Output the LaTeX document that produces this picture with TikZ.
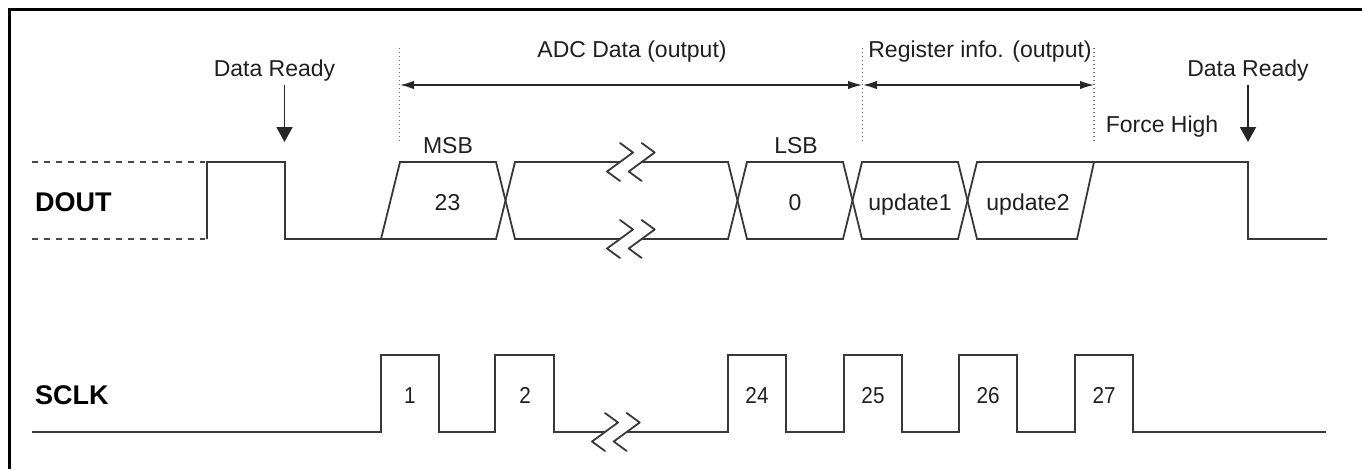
\documentclass[tikz,border=0pt]{standalone}
\usepackage{fontspec}
\setmainfont{Liberation Sans}
\newfontfamily\numfont[FakeStretch=0.9]{Liberation Sans}
\usetikzlibrary{arrows.meta}
\newcommand\brkmark[2]{\draw[brk] ({#1},{#2-19}) -- ++(13,9.5) -- ++(-26,19) -- ++(13,9.5);}
\tikzset{
 sig/.style={line width=1.8pt, black!78, line join=miter},
 dashsig/.style={line width=1.3pt, black!72, dash pattern=on 6pt off 6pt},
 guide/.style={line width=1.2pt, black!55, dash pattern=on 1.4pt off 2.6pt},
 dim/.style={line width=1.5pt, black!85, {Latex[length=14pt,width=8.5pt]}-{Latex[length=14pt,width=8.5pt]}},
 readyarrow/.style={line width=1.8pt, black!85, -{Triangle[length=15pt,width=16pt]}},
 lbl/.style={font=\fontsize{23}{27}\selectfont, text=black!88, inner sep=0pt, anchor=base},
 signame/.style={font=\fontsize{27}{30}\selectfont\bfseries, text=black, inner sep=0pt, anchor=base west},
 num/.style={font=\numfont\fontsize{23}{27}\selectfont, text=black!88, inner sep=0pt, anchor=base},
 brk/.style={line width=1.8pt, black!78, line join=round, line cap=round},
 frame/.style={line width=2.6pt, black}
}
\begin{document}
\begin{tikzpicture}[x=1pt,y=-1pt]
\useasboundingbox (0,0) rectangle (1362,469);
% frame (clipped on right and bottom)
\draw[frame] (9.5,469) -- (9.5,9.5) -- (1362,9.5);

% ---------- labels ----------
\node[signame] (dout) at (35,211.5) {DOUT};
\node[signame] (sclk) at (35,404) {SCLK};

\node[lbl] (dr1) at (274.5,76) {Data Ready};
\node[lbl] (dr2) at (1248,76) {Data Ready};
\node[lbl] (adc) at (632,57) {ADC Data (output)};
\node[lbl] (reg) at (980,57) {Register info. (output)};
\node[lbl] (fh) at (1162,132) {Force High};
\node[lbl] (msb) at (448,153) {MSB};
\node[lbl] (lsb) at (796,153) {LSB};
\node[lbl] (b23) at (447.5,210) {23};
\node[lbl] (b0) at (795,210) {0};
\node[lbl] (u1) at (910,210) {update1};
\node[lbl] (u2) at (1028,210) {update2};

% ---------- guides and dimension arrows ----------
\coordinate (g1t) at (399.5,48);  \coordinate (g1b) at (399.5,143);
\coordinate (g2t) at (862.5,48);  \coordinate (g2b) at (862.5,143);
\coordinate (g3t) at (1094,48);   \coordinate (g3b) at (1094,143);
\draw[guide] (g1t) -- (g1b);
\draw[guide] (g2t) -- (g2b);
\draw[guide] (g3t) -- (g3b);
\coordinate (a1l) at (400,85); \coordinate (a1r) at (862,85);
\coordinate (a2l) at (863,85); \coordinate (a2r) at (1094,85);
\draw[dim] (a1l) -- (a1r);
\draw[dim] (a2l) -- (a2r);

% Data Ready arrows
\coordinate (r1s) at (284.5,85); \coordinate (r1e) at (284.5,142);
\coordinate (r2s) at (1248,85);  \coordinate (r2e) at (1248,142);
\draw[readyarrow] (r1s) -- (r1e);
\draw[readyarrow] (r2s) -- (r2e);

% ---------- DOUT ----------
\draw[dashsig] (32,162) -- (205,162);
\draw[dashsig] (32,239) -- (205,239);
\draw[sig] (207,239) -- (207,162) -- (285,162) -- (285,239) -- (381,239)
  -- (400,162) -- (496,162) -- (515,239) -- (620,239);
\draw[sig] (642,239) -- (728,239) -- (747,162) -- (843,162) -- (862,239)
  -- (958,239) -- (977,162) -- (1248,162) -- (1248,239) -- (1327,239);
\draw[sig] (381,239) -- (496,239) -- (515,162) -- (620,162);
\draw[sig] (642,162) -- (728,162) -- (747,239) -- (843,239) -- (862,162)
  -- (958,162) -- (977,239) -- (1077,239) -- (1094,162);
\brkmark{620}{162}
\brkmark{641.7}{162}
\brkmark{620}{239}
\brkmark{641.7}{239}

% ---------- SCLK ----------
\draw[sig] (32,432) -- (381,432) -- (381,355) -- (439,355) -- (439,432)
  -- (495,432) -- (495,355) -- (554,355) -- (554,432) -- (605,432);
\draw[sig] (627,432) -- (728,432) -- (728,355) -- (786,355) -- (786,432)
  -- (844,432) -- (844,355) -- (902,355) -- (902,432)
  -- (959,432) -- (959,355) -- (1017,355) -- (1017,432)
  -- (1075,432) -- (1075,355) -- (1133,355) -- (1133,432) -- (1326,432);
\brkmark{605}{432}
\brkmark{626.7}{432}

\node[num] (c1) at (410,403.5) {1};
\node[num] (c2) at (525,403.5) {2};
\node[num] (c24) at (757,403.5) {24};
\node[num] (c25) at (873,403.5) {25};
\node[num] (c26) at (988,403.5) {26};
\node[num] (c27) at (1104,403.5) {27};
\end{tikzpicture}
\end{document}
